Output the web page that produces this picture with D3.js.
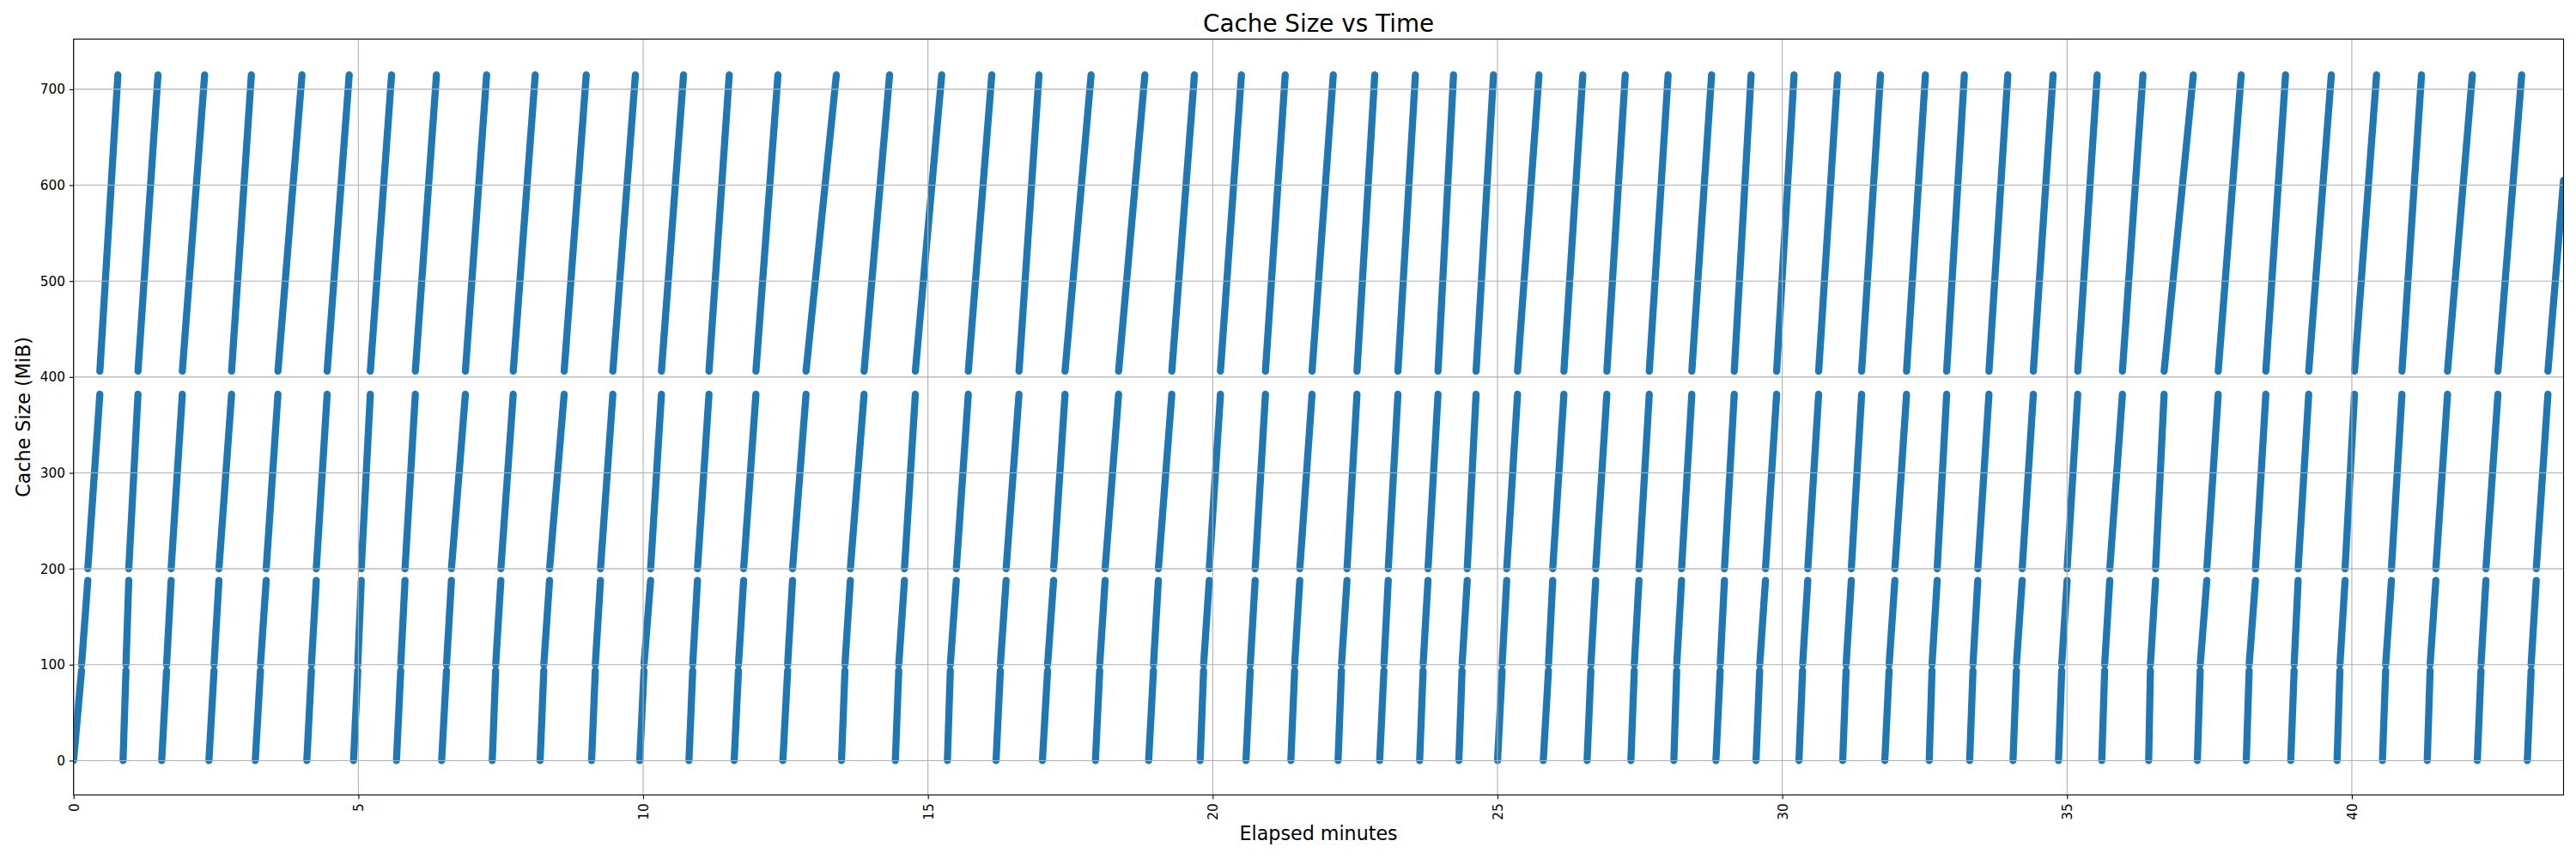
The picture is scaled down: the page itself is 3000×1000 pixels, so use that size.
<!DOCTYPE html>
<html><head><meta charset="utf-8">
<script src="https://cdn.jsdelivr.net/npm/d3@7"></script>
<style>
body{margin:0;background:#fff}
svg{display:block}
text{font-family:"DejaVu Sans",sans-serif;fill:#000}
</style>
</head><body>
<svg id="chart" width="3000" height="1000"></svg>
<script>
// ---- data (elapsed minutes at key points of each fill cycle) ----
const tZero = [0.000,0.868,1.547,2.376,3.190,4.095,4.915,5.669,6.462,7.351,8.191,9.095,9.940,10.804,11.598,12.453,13.483,14.428,15.342,16.196,17.010,17.941,18.875,19.780,20.584,21.372,22.201,22.931,23.633,24.322,25.001,25.804,26.573,27.342,28.096,28.835,29.539,30.293,31.061,31.800,32.580,33.290,34.051,34.850,35.610,36.433,37.288,38.147,38.927,39.741,40.537,41.324,42.203,43.081];
const tStep1 = [0.140,0.920,1.633,2.466,3.281,4.176,4.990,5.744,6.548,7.411,8.256,9.160,10.015,10.870,11.674,12.537,13.543,14.488,15.393,16.272,17.101,18.016,18.960,19.840,20.659,21.438,22.261,23.006,23.694,24.378,25.081,25.895,26.640,27.402,28.147,28.910,29.604,30.357,31.121,31.876,32.629,33.348,34.111,34.906,35.660,36.463,37.338,38.197,38.987,39.791,40.594,41.374,42.268,43.148];
const tStep2 = [0.250,0.969,1.713,2.552,3.382,4.261,5.051,5.819,6.634,7.502,8.357,9.251,10.131,10.954,11.764,12.623,13.638,14.588,15.498,16.373,17.207,18.111,19.046,19.940,20.745,21.529,22.358,23.082,23.780,24.469,25.162,25.970,26.724,27.484,28.232,28.985,29.705,30.448,31.212,31.977,32.720,33.433,34.212,35.001,35.750,36.554,37.454,38.308,39.057,39.881,40.695,41.475,42.354,43.238];
const tStep3 = [0.461,1.131,1.909,2.774,3.588,4.452,5.210,6.000,6.879,7.719,8.613,9.468,10.321,11.156,11.980,12.860,13.879,14.779,15.709,16.599,17.407,18.348,19.282,20.136,20.926,21.744,22.533,23.252,23.956,24.624,25.352,26.166,26.920,27.665,28.412,29.157,29.901,30.639,31.393,32.182,32.886,33.629,34.408,35.188,35.972,36.704,37.654,38.490,39.243,40.047,40.880,41.680,42.565,43.443];
const tPeak = [0.778,1.482,2.301,3.121,4.010,4.839,5.583,6.371,7.252,8.105,9.001,9.864,10.709,11.512,12.367,13.392,14.327,15.242,16.121,16.950,17.865,18.809,19.679,20.504,21.273,22.117,22.845,23.558,24.228,24.930,25.729,26.498,27.243,27.996,28.759,29.453,30.207,30.971,31.725,32.513,33.197,33.960,34.755,35.529,36.333,37.217,38.057,38.836,39.640,40.434,41.223,42.116,42.982,43.717];
const peakMiB = [715,715,715,715,715,715,715,715,715,715,715,715,715,715,715,715,715,715,715,715,715,715,715,715,715,715,715,715,715,715,715,715,715,715,715,715,715,715,715,715,715,715,715,715,715,715,715,715,715,715,715,715,715,605];
// cache size (MiB) at start / end of each of the four growth bands
const bandStartMiB = [0, 100, 200, 406];
const bandEndMiB = [94, 188, 382, 715];
const xTicks = [0, 5, 10, 15, 20, 25, 30, 35, 40];
const yTicks = [0, 100, 200, 300, 400, 500, 600, 700];
const xDomain = [0, 43.717];
const yDomain = [-35.8, 752.3];

// ---- layout ----
const L = 85.7, R = 2985.5, T = 45.5, B = 925.4;
const svg = d3.select("#chart");
svg.append("rect").attr("width", 3000).attr("height", 1000).attr("fill", "#fff");

const x = d3.scaleLinear().domain(xDomain).range([L, R]);
const y = d3.scaleLinear().domain(yDomain).range([B, T]);

svg.append("clipPath").attr("id", "clip")
  .append("rect").attr("x", L).attr("y", T).attr("width", R - L).attr("height", B - T);

// build segments
const segs = [];
for (let i = 0; i < tZero.length; i++) {
  const ts = [tZero[i], tStep1[i], tStep2[i], tStep3[i], tPeak[i]];
  for (let b = 0; b < 4; b++) {
    const y1 = b === 3 ? peakMiB[i] : bandEndMiB[b];
    segs.push([[ts[b], bandStartMiB[b]], [ts[b + 1], y1]]);
  }
}
const line = d3.line().x(d => x(d[0])).y(d => y(d[1]));

svg.append("g").attr("clip-path", "url(#clip)")
  .selectAll("path").data(segs).join("path")
  .attr("d", line)
  .attr("fill", "none")
  .attr("stroke", "#1f77b4")
  .attr("stroke-width", 8.3)
  .attr("stroke-linecap", "round")
  .attr("stroke-linejoin", "round");

// grid (drawn over scatter like matplotlib collections)
const grid = svg.append("g").attr("stroke", "#b0b0b0").attr("stroke-width", 1.1);
grid.selectAll(".gx").data(xTicks).join("line")
  .attr("x1", d => x(d)).attr("x2", d => x(d)).attr("y1", T).attr("y2", B);
grid.selectAll(".gy").data(yTicks).join("line")
  .attr("y1", d => y(d)).attr("y2", d => y(d)).attr("x1", L).attr("x2", R);

// axes
const xAxis = d3.axisBottom(x).tickValues(xTicks).tickSize(4.9).tickPadding(4.9).tickFormat(d3.format("d"));
const gx = svg.append("g").attr("transform", `translate(0,${B})`).call(xAxis);
gx.select(".domain").remove();
gx.selectAll(".tick line").attr("stroke", "#000").attr("stroke-width", 1.1);
gx.selectAll(".tick text")
  .attr("font-size", "15.3px")
  .attr("text-anchor", "end")
  .attr("transform", "translate(0,9.8) rotate(-90)")
  .attr("x", 0).attr("y", 0).attr("dy", "0.36em");

const yAxis = d3.axisLeft(y).tickValues(yTicks).tickSize(4.9).tickPadding(4.9).tickFormat(d3.format("d"));
const gy = svg.append("g").attr("transform", `translate(${L},0)`).call(yAxis);
gy.select(".domain").remove();
gy.selectAll(".tick line").attr("stroke", "#000").attr("stroke-width", 1.1);
gy.selectAll(".tick text").attr("font-size", "15.3px");

// spines
svg.append("rect").attr("x", L).attr("y", T).attr("width", R - L).attr("height", B - T)
  .attr("fill", "none").attr("stroke", "#000").attr("stroke-width", 1.1);

// titles
svg.append("text").attr("x", (L + R) / 2).attr("y", 37).attr("text-anchor", "middle")
  .attr("font-size", "27.8px").text("Cache Size vs Time");
svg.append("text").attr("x", (L + R) / 2).attr("y", 978).attr("text-anchor", "middle")
  .attr("font-size", "22.2px").text("Elapsed minutes");
svg.append("text").attr("transform", `translate(35.4,${(T + B) / 2}) rotate(-90)`)
  .attr("text-anchor", "middle").attr("font-size", "22.2px").text("Cache Size (MiB)");
</script>
</body></html>
